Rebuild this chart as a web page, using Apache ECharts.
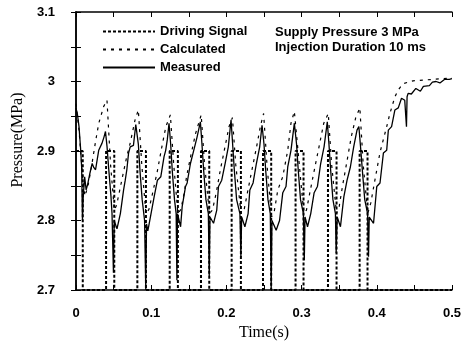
<!DOCTYPE html>
<html>
<head>
<meta charset="utf-8">
<script src="https://cdn.jsdelivr.net/npm/echarts@6/dist/echarts.min.js"></script>
<style>html,body{margin:0;padding:0;background:#fff}#c{width:464px;height:352px}</style>
</head>
<body>
<div id="c"></div>
<script>
const seriesNames = ['Driving Signal', 'Calculated', 'Measured'];
const annotationLines = ['Supply Pressure 3 MPa', 'Injection Duration 10 ms'];

const drivingSignal = [
  [0, 2.9], [0.009, 2.9], [0.009, 2.7], [0.040, 2.7], [0.040, 2.9], [0.0509, 2.9], [0.0509, 2.7],
  [0.0816, 2.7], [0.0816, 2.9], [0.093, 2.9], [0.093, 2.7], [0.1246, 2.7], [0.1246, 2.9], [0.1355, 2.9], [0.1355, 2.7],
  [0.1662, 2.7], [0.1662, 2.9], [0.1772, 2.9], [0.1772, 2.7], [0.207, 2.7], [0.207, 2.9], [0.2193, 2.9], [0.2193, 2.7],
  [0.2487, 2.7], [0.2487, 2.9], [0.2596, 2.9], [0.2596, 2.7], [0.292, 2.7], [0.292, 2.9], [0.3026, 2.9], [0.3026, 2.7],
  [0.3351, 2.7], [0.3351, 2.9], [0.3465, 2.9], [0.3465, 2.7], [0.3772, 2.7], [0.3772, 2.9], [0.3877, 2.9], [0.3877, 2.7],
  [0.5, 2.7]
];

const calculated = [
  [0, 2.968], [0.004, 2.93], [0.009, 2.86], [0.012, 2.835], [0.016, 2.85], [0.021, 2.88], [0.0259, 2.913], [0.0303, 2.94], [0.0368, 2.964], [0.0412, 2.973],
  [0.046, 2.88], [0.051, 2.815], [0.054, 2.822], [0.0609, 2.858], [0.0675, 2.892], [0.072, 2.911], [0.0786, 2.945], [0.0829, 2.959],
  [0.0875, 2.88], [0.093, 2.81], [0.097, 2.816], [0.102, 2.84], [0.108, 2.87], [0.114, 2.905], [0.1195, 2.935], [0.1255, 2.952],
  [0.130, 2.88], [0.1355, 2.81], [0.1395, 2.816], [0.144, 2.84], [0.147, 2.863], [0.153, 2.895], [0.159, 2.925], [0.1665, 2.952],
  [0.171, 2.88], [0.1775, 2.81], [0.1815, 2.815], [0.1865, 2.84], [0.192, 2.873], [0.198, 2.905], [0.2035, 2.935], [0.208, 2.948],
  [0.2125, 2.88], [0.2195, 2.81], [0.2235, 2.815], [0.228, 2.84], [0.234, 2.873], [0.24, 2.905], [0.2455, 2.937], [0.2495, 2.954],
  [0.254, 2.88], [0.260, 2.805], [0.2635, 2.812], [0.2684, 2.844], [0.275, 2.863], [0.2816, 2.901], [0.2859, 2.94], [0.2904, 2.957], [0.2925, 2.959],
  [0.297, 2.88], [0.303, 2.81], [0.3065, 2.815], [0.311, 2.84], [0.317, 2.873], [0.323, 2.905], [0.3295, 2.94], [0.3355, 2.954],
  [0.340, 2.88], [0.3465, 2.81], [0.350, 2.82], [0.3545, 2.85], [0.360, 2.883], [0.366, 2.92], [0.372, 2.948], [0.3775, 2.962],
  [0.382, 2.88], [0.388, 2.81], [0.392, 2.825], [0.397, 2.855], [0.4043, 2.898], [0.4132, 2.935], [0.4175, 2.954], [0.4241, 2.978],
  [0.4286, 2.988], [0.4351, 2.997], [0.4483, 3.001], [0.5, 3.005]
];

const measured = [
  [0.000, 2.962], [0.002, 2.952], [0.004, 2.935], [0.006, 2.905], [0.0075, 2.877], [0.0086, 2.80], [0.0096, 2.834], [0.0115, 2.863],
  [0.0135, 2.844], [0.0155, 2.852], [0.0185, 2.868], [0.0215, 2.882], [0.0238, 2.876], [0.026, 2.873], [0.0302, 2.901], [0.0345, 2.911],
  [0.0372, 2.92], [0.0392, 2.928],
  [0.0413, 2.906], [0.0436, 2.873], [0.0465, 2.835], [0.0479, 2.81], [0.0498, 2.725], [0.0508, 2.80], [0.0545, 2.788], [0.059, 2.81],
  [0.0633, 2.844], [0.0655, 2.858], [0.0676, 2.873], [0.0699, 2.897], [0.0721, 2.906], [0.0764, 2.908], [0.0795, 2.938], [0.0812, 2.937],
  [0.0829, 2.91], [0.0852, 2.87], [0.088, 2.83], [0.0912, 2.80], [0.0928, 2.70], [0.0938, 2.795], [0.0955, 2.785], [0.0974, 2.796],
  [0.1039, 2.834], [0.1083, 2.858], [0.1128, 2.863], [0.1171, 2.892], [0.1193, 2.901], [0.1214, 2.916], [0.1237, 2.94],
  [0.1259, 2.91], [0.128, 2.872], [0.131, 2.83], [0.1332, 2.81], [0.1342, 2.714], [0.1350, 2.81], [0.1391, 2.791], [0.1412, 2.82],
  [0.1457, 2.849], [0.1478, 2.854], [0.1522, 2.882], [0.1566, 2.901], [0.161, 2.92], [0.1654, 2.942],
  [0.1675, 2.91], [0.1698, 2.872], [0.1728, 2.83], [0.1760, 2.81], [0.1772, 2.72], [0.1782, 2.805], [0.1829, 2.796], [0.1872, 2.815],
  [0.1895, 2.849], [0.1938, 2.858], [0.1983, 2.882], [0.2026, 2.906], [0.2062, 2.945],
  [0.2083, 2.91], [0.2106, 2.872], [0.2136, 2.83], [0.2180, 2.81], [0.2193, 2.748], [0.2203, 2.805], [0.2246, 2.791], [0.2289, 2.81],
  [0.2312, 2.844], [0.2355, 2.854], [0.2399, 2.882], [0.2443, 2.906], [0.2474, 2.937],
  [0.2500, 2.91], [0.2523, 2.872], [0.2553, 2.83], [0.2584, 2.81], [0.2596, 2.70], [0.2606, 2.80], [0.2662, 2.786], [0.2707, 2.80],
  [0.2750, 2.84], [0.2793, 2.849], [0.2816, 2.877], [0.2859, 2.901], [0.2904, 2.94],
  [0.2933, 2.91], [0.2956, 2.872], [0.2986, 2.83], [0.3024, 2.81], [0.3036, 2.743], [0.3046, 2.805], [0.3079, 2.791], [0.3122, 2.81],
  [0.3167, 2.84], [0.3211, 2.849], [0.3254, 2.882], [0.3299, 2.906], [0.3342, 2.942],
  [0.3364, 2.91], [0.3387, 2.872], [0.3417, 2.83], [0.3450, 2.81], [0.3460, 2.753], [0.3474, 2.805], [0.3517, 2.791], [0.3562, 2.834],
  [0.3605, 2.858], [0.3649, 2.877], [0.3693, 2.906], [0.3737, 2.93], [0.3762, 2.935],
  [0.3785, 2.905], [0.3810, 2.87], [0.3840, 2.83], [0.3878, 2.81], [0.3890, 2.748], [0.3900, 2.805], [0.3957, 2.796], [0.4000, 2.849],
  [0.4043, 2.854], [0.4088, 2.897], [0.4132, 2.901], [0.4154, 2.93], [0.4197, 2.935], [0.4241, 2.959], [0.4286, 2.962], [0.4329, 2.976],
  [0.4372, 2.973], [0.4390, 2.975], [0.4395, 2.935], [0.4403, 2.978], [0.4417, 2.983], [0.4460, 2.982], [0.4520, 2.990], [0.4580, 2.986],
  [0.4620, 2.993], [0.4700, 2.994], [0.4740, 2.999], [0.4789, 3.000], [0.4840, 2.998], [0.4900, 3.003], [0.4964, 3.003], [0.5000, 3.004]
];

const chart = echarts.init(document.getElementById('c'), null, {renderer: 'canvas'});
const sans = 'Liberation Sans, Arial, sans-serif';
const serif = 'Liberation Serif, Times New Roman, serif';
const axisCommon = {
  axisLine: {show: true, lineStyle: {color: '#000', width: 1.5}},
  axisTick: {show: true, inside: true, length: 5, lineStyle: {color: '#000', width: 1}},
  minorTick: {show: true, splitNumber: 2, length: 5, lineStyle: {color: '#000', width: 1}},
  splitLine: {show: false}
};
chart.setOption({
  animation: false,
  backgroundColor: '#fff',
  grid: {left: 76, right: 8, top: 12, bottom: 62, containLabel: false},
  legend: {
    orient: 'vertical', left: 102, top: 25, padding: 0, itemGap: 5,
    itemWidth: 52, itemHeight: 14,
    data: seriesNames,
    itemStyle: {opacity: 0, borderWidth: 0},
    textStyle: {color: '#000', fontFamily: sans, fontWeight: 'bold', fontSize: 13, padding: [0, 0, 0, 0]}
  },
  xAxis: [
    Object.assign({}, axisCommon, {
      type: 'value', min: 0, max: 0.5, interval: 0.1, position: 'bottom',
      name: 'Time(s)', nameLocation: 'middle', nameGap: 35,
      nameTextStyle: {color: '#000', fontFamily: serif, fontSize: 16},
      axisLabel: {color: '#000', fontFamily: sans, fontWeight: 'bold', fontSize: 13, margin: 17}
    }),
    Object.assign({}, axisCommon, {
      type: 'value', min: 0, max: 0.5, interval: 0.1, position: 'top',
      axisLabel: {show: false}
    })
  ],
  yAxis: [
    Object.assign({}, axisCommon, {
      type: 'value', min: 2.7, max: 3.1, interval: 0.1, position: 'left',
      name: 'Pressure(MPa)', nameLocation: 'middle', nameGap: 43,
      nameTextStyle: {color: '#000', fontFamily: serif, fontSize: 16, padding: [0, 0, 0, 22]},
      axisLabel: {color: '#000', fontFamily: sans, fontWeight: 'bold', fontSize: 13, margin: 21}
    }),
    Object.assign({}, axisCommon, {
      type: 'value', min: 2.7, max: 3.1, interval: 0.1, position: 'right',
      axisLabel: {show: false}
    })
  ],
  graphic: [{
    type: 'text', left: 275, top: 25,
    style: {text: annotationLines.join('\n'), fill: '#000', font: 'bold 13px ' + sans, lineHeight: 15, align: 'center'}
  }],
  series: [
    {
      name: seriesNames[0], type: 'line', data: drivingSignal, symbol: 'none', z: 2,
      lineStyle: {color: '#000', width: 2, type: [3, 2]}, itemStyle: {color: '#000'}
    },
    {
      name: seriesNames[1], type: 'line', data: calculated, symbol: 'none', z: 3,
      lineStyle: {color: '#000', width: 1.2, type: [3, 5]}, itemStyle: {color: '#000'}
    },
    {
      name: seriesNames[2], type: 'line', data: measured, symbol: 'none', z: 4,
      lineStyle: {color: '#000', width: 1.3, type: 'solid'}, itemStyle: {color: '#000'}
    }
  ]
});
</script>
</body>
</html>
